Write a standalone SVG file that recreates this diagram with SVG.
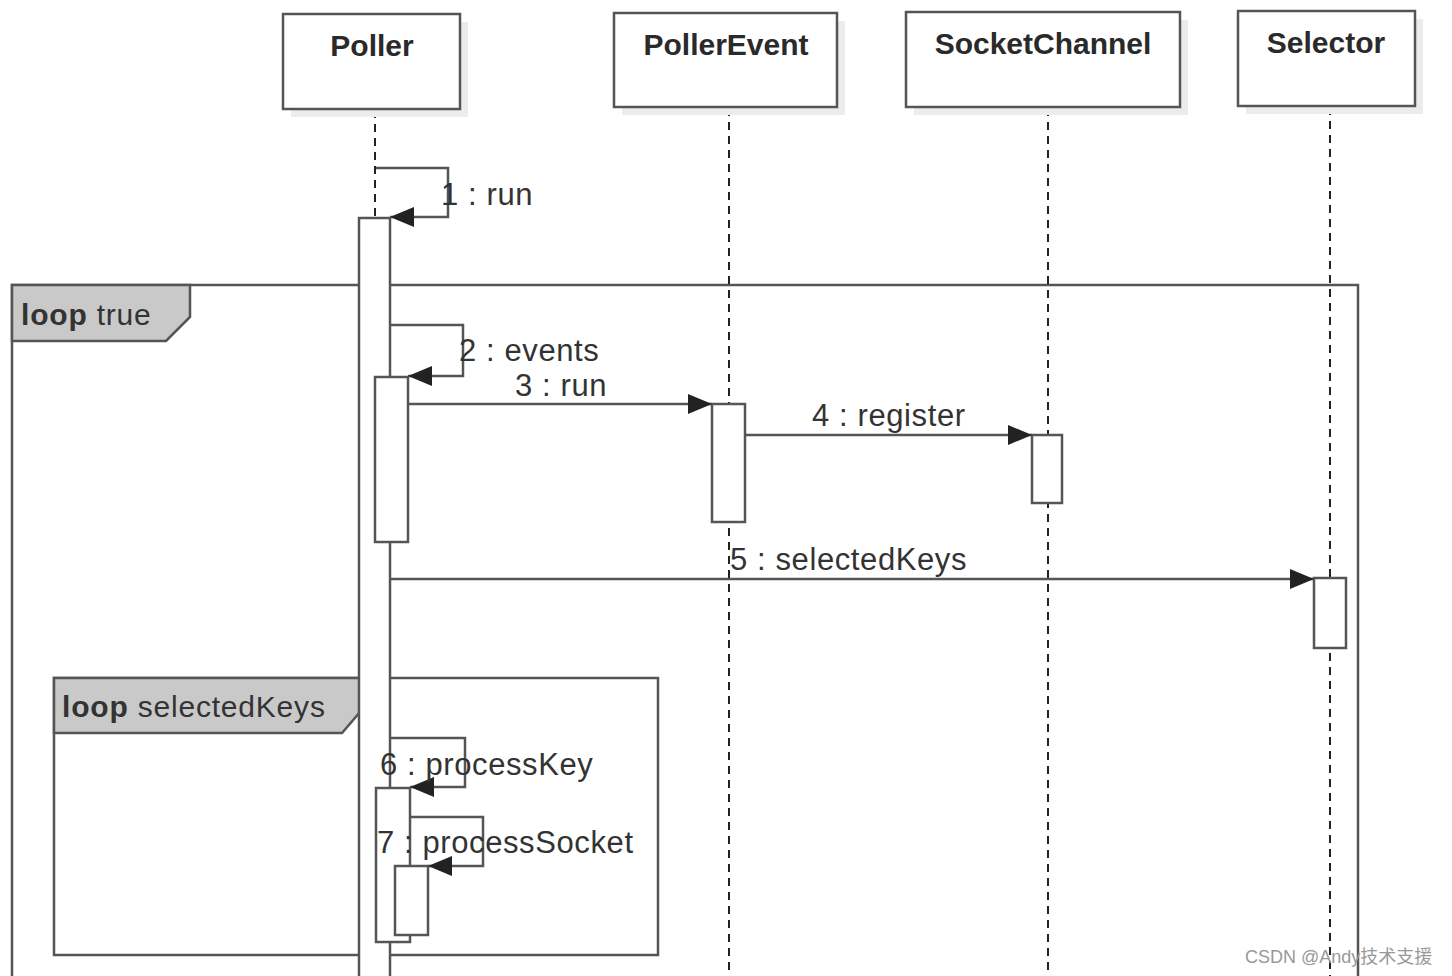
<svg xmlns="http://www.w3.org/2000/svg" width="1452" height="976" viewBox="0 0 1452 976">
<style>
.box{fill:#fff;stroke:#555;stroke-width:2.5}
.shadow{fill:#ececec}
.name{font-family:"Liberation Sans",Arial,sans-serif;font-weight:bold;font-size:30px;fill:#2a2a2a;text-anchor:middle}
.life{stroke:#222;stroke-width:2;stroke-dasharray:8 6;fill:none}
.act{fill:#fff;stroke:#555;stroke-width:2.5}
.frame{fill:none;stroke:#555;stroke-width:2.5}
.tag{fill:#c9c9c9;stroke:#555;stroke-width:2.5}
.tagt{font-family:"Liberation Sans",Arial,sans-serif;font-size:30px;letter-spacing:0.8px;fill:#333}
.msg{stroke:#555;stroke-width:2.5;fill:none}
.lbl{font-family:"Liberation Sans",Arial,sans-serif;font-size:31px;letter-spacing:0.6px;fill:#333}
.wm{font-family:"Liberation Sans",Arial,"Noto Sans CJK SC",sans-serif;font-size:18px;fill:#999}
</style>
<defs>
<marker id="ah" markerUnits="userSpaceOnUse" markerWidth="26" markerHeight="22" refX="24" refY="10" orient="auto">
<path d="M0,0 L24,10 L0,20 z" fill="#222"/>
</marker>
</defs>
<rect width="1452" height="976" fill="#fff"/>

<g id="frames">
<rect class="frame" x="12" y="285" width="1346" height="720"/>
<path class="tag" d="M12,285 H190 V317 L166,341 H12 Z"/>
<text class="tagt" x="21" y="325"><tspan font-weight="bold">loop</tspan> true</text>
<rect class="frame" x="54" y="678" width="604" height="277"/>
<path class="tag" d="M54,678 H360 V712 L342,733 H54 Z"/>
<text class="tagt" x="62" y="717"><tspan font-weight="bold">loop</tspan> selectedKeys</text>
</g>

<g id="lifelines">
<line class="life" x1="375" y1="110" x2="375" y2="218"/>
<line class="life" x1="729" y1="108" x2="729" y2="976"/>
<line class="life" x1="1048" y1="108" x2="1048" y2="976"/>
<line class="life" x1="1330" y1="107" x2="1330" y2="976"/>
</g>

<g id="poller">
<rect class="shadow" x="291" y="22" width="177" height="95"/>
<rect class="box" x="283" y="14" width="177" height="95"/>
<text class="name" x="372" y="56">Poller</text>
</g>
<g id="pollerevent">
<rect class="shadow" x="622" y="21" width="223" height="94"/>
<rect class="box" x="614" y="13" width="223" height="94"/>
<text class="name" x="726" y="55">PollerEvent</text>
</g>
<g id="socketchannel">
<rect class="shadow" x="914" y="20" width="274" height="95"/>
<rect class="box" x="906" y="12" width="274" height="95"/>
<text class="name" x="1043" y="54">SocketChannel</text>
</g>
<g id="selector">
<rect class="shadow" x="1246" y="19" width="177" height="95"/>
<rect class="box" x="1238" y="11" width="177" height="95"/>
<text class="name" x="1326" y="53">Selector</text>
</g>

<g id="activations">
<rect class="act" x="359" y="218" width="31" height="790"/>
<rect class="act" x="375" y="377" width="33" height="165"/>
<rect class="act" x="712" y="404" width="33" height="118"/>
<rect class="act" x="1032" y="435" width="30" height="68"/>
<rect class="act" x="1314" y="578" width="32" height="70"/>
<rect class="act" x="376" y="788" width="34" height="154"/>
<rect class="act" x="395" y="866" width="33" height="69"/>
</g>

<g id="connectors">
<path class="msg" d="M376,168 H448 V217 H390" marker-end="url(#ah)"/>
<path class="msg" d="M390,325 H463 V376 H408" marker-end="url(#ah)"/>
<path class="msg" d="M408,404 H712" marker-end="url(#ah)"/>
<path class="msg" d="M745,435 H1032" marker-end="url(#ah)"/>
<path class="msg" d="M390,579 H1314" marker-end="url(#ah)"/>
<path class="msg" d="M390,738 H465 V787 H410" marker-end="url(#ah)"/>
<path class="msg" d="M410,817 H483 V866 H428" marker-end="url(#ah)"/>
</g>

<g id="labels">
<text class="lbl" x="441" y="205">1 : run</text>
<text class="lbl" x="459" y="361">2 : events</text>
<text class="lbl" x="515" y="396">3 : run</text>
<text class="lbl" x="812" y="426">4 : register</text>
<text class="lbl" x="730" y="570">5 : selectedKeys</text>
<text class="lbl" x="380" y="775">6 : processKey</text>
<text class="lbl" x="377" y="853">7 : processSocket</text>
</g>

<text class="wm" x="1245" y="963">CSDN @Andy技术支援</text>
</svg>
